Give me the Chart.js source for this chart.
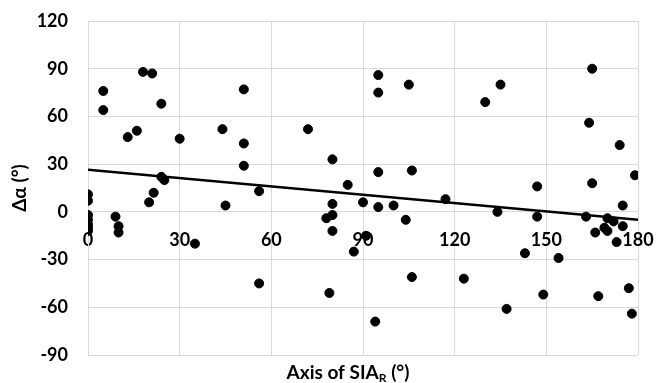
<!DOCTYPE html>
<html>
<head>
<meta charset="utf-8">
<script src="https://cdn.jsdelivr.net/npm/chart.js@4.4.0/dist/chart.umd.min.js"></script>
<style>
  html, body { margin: 0; padding: 0; background: #ffffff; }
  #wrap { width: 656px; height: 383px; }
</style>
</head>
<body>
<div id="wrap"><canvas id="chart"></canvas></div>
<script>
// --- DATA ---
const xValues = [0, 0, 0, 0, 0, 0, 0,
    5, 5, 9, 10, 10, 13, 16, 18, 21, 20, 21.5, 24, 24, 25, 30, 35,
    44, 45, 51, 51, 51, 56, 56, 72,
    78, 80, 80, 80, 80, 79, 85, 87, 91, 90,
    95, 95, 95, 95, 94, 100, 104, 105, 106, 106,
    117, 123, 130, 134, 135, 137, 143, 147, 147, 149, 154,
    163, 164, 165, 165, 166, 167, 169, 170, 170, 172, 173, 174, 175, 175, 177, 178, 179];
const yValues = [11, 7, -2, -5, -8, -10, -12,
    76, 64, -3, -9, -13, 47, 51, 88, 87, 6, 12, 68, 22, 20, 46, -20,
    52, 4, 77, 43, 29, 13, -45, 52,
    -4, 33, 5, -2, -12, -51, 17, -25, -15, 6,
    86, 75, 25, 3, -69, 4, -5, 80, 26, -41,
    8, -42, 69, 0, 80, -61, -26, 16, -3, -52, -29,
    -3, 56, 90, 18, -13, -53, -10, -4, -12, -6, -19, 42, 4, -9, -48, -64, 23];

// trend line end points
const trendX = [0, 180];
const trendY = [26.5, -5];

const xTicks = [0, 30, 60, 90, 120, 150, 180];
const yTicks = [-90, -60, -30, 0, 30, 60, 90, 120];

const gridColor = '#d9d9d9';
const fontFamily = 'Lato, "Open Sans", sans-serif';

const points = xValues.map((x, i) => ({ x: x, y: yValues[i] }));
const trend = trendX.map((x, i) => ({ x: x, y: trendY[i] }));

// x axis title with subscript R
const xTitlePlugin = {
    id: 'xTitle',
    afterDraw(chart) {
        const ctx = chart.ctx;
        const big = 'bold 19px ' + fontFamily;
        const small = 'bold 12px ' + fontFamily;
        const parts = [
            { t: 'Axis of SIA', f: big, dy: 0 },
            { t: 'R', f: small, dy: 3 },
            { t: ' (°)', f: big, dy: 0 }
        ];
        ctx.save();
        let total = 0;
        parts.forEach(p => { ctx.font = p.f; p.w = ctx.measureText(p.t).width; total += p.w; });
        let x = 348 - total / 2;
        const y = 379;
        ctx.fillStyle = '#000000';
        ctx.textBaseline = 'alphabetic';
        ctx.textAlign = 'left';
        parts.forEach(p => {
            ctx.font = p.f;
            ctx.fillText(p.t, x, y + p.dy);
            x += p.w;
        });
        ctx.restore();
    }
};

const ctx = document.getElementById('chart').getContext('2d');
const chart = new Chart(ctx, {
    type: 'scatter',
    data: {
        datasets: [
            {
                label: 'trend',
                type: 'line',
                data: trend,
                borderColor: '#000000',
                borderWidth: 2.5,
                pointRadius: 0,
                fill: false,
                order: 0
            },
            {
                label: 'data',
                data: points,
                backgroundColor: '#000000',
                borderColor: '#000000',
                pointRadius: 4.5,
                pointHoverRadius: 4.5,
                order: 1
            }
        ]
    },
    options: {
        responsive: true,
        maintainAspectRatio: false,
        animation: false,
        layout: { autoPadding: false, padding: { left: 8, right: 18, top: 21, bottom: 28 } },
        plugins: {
            legend: { display: false },
            tooltip: { enabled: false }
        },
        scales: {
            x: {
                type: 'linear',
                position: { y: 0 },
                min: 0,
                max: 180,
                afterBuildTicks: (scale) => { scale.ticks = xTicks.map(v => ({ value: v })); },
                afterFit: (scale) => {
                    scale.height = 0;
                    scale.paddingLeft = 0;
                    scale.paddingRight = 0;
                },
                ticks: {
                    color: '#000000',
                    padding: 18,
                    maxRotation: 0,
                    font: { family: fontFamily, size: 18, weight: 'bold' }
                },
                grid: { color: gridColor, lineWidth: 1, drawTicks: false },
                border: { color: gridColor, width: 1 }
            },
            y: {
                type: 'linear',
                min: -90,
                max: 120,
                afterBuildTicks: (scale) => { scale.ticks = yTicks.map(v => ({ value: v })); },
                afterFit: (scale) => {
                    scale.width = 80;
                    scale.paddingTop = 0;
                    scale.paddingBottom = 0;
                },
                ticks: {
                    color: '#000000',
                    padding: 20,
                    font: { family: fontFamily, size: 18, weight: 'bold' }
                },
                grid: { color: gridColor, lineWidth: 1, drawTicks: false },
                border: { color: gridColor, width: 1 },
                title: {
                    display: true,
                    text: 'Δα (°)',
                    color: '#000000',
                    padding: { top: 0, bottom: 0 },
                    font: { family: fontFamily, size: 19, weight: 'bold' }
                }
            }
        }
    },
    plugins: [xTitlePlugin]
});
</script>
</body>
</html>
